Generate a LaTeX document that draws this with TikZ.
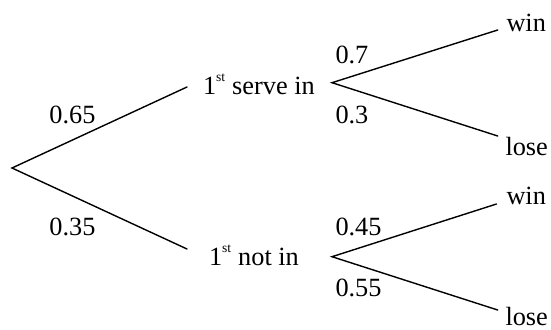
\documentclass[tikz,border=0pt]{standalone}
\usepackage{fontspec}
\setmainfont{Liberation Serif}
\newcommand{\supst}{\raisebox{13pt}{\fontsize{13.5}{13.5}\selectfont st}\hspace{0.5pt}}
\begin{document}
\begin{tikzpicture}[x=1pt,y=-1pt,
  lbl/.style={anchor=base west,inner sep=0pt,outer sep=0pt,font=\fontsize{26.3}{31}\selectfont},
  branch/.style={line width=1.4pt,line cap=round,line join=miter}]
\useasboundingbox (0,0) rectangle (551,329);
% branch points
\coordinate (r) at (12,168);
\coordinate (a) at (187,87);
\coordinate (b) at (187,249);
\coordinate (as) at (332,82.7);
\coordinate (bs) at (332,256.7);
\coordinate (aw) at (497.7,30);
\coordinate (al) at (497.7,136);
\coordinate (bw) at (496.5,204);
\coordinate (bl) at (497.7,310);
% connectors
\draw[branch] (a) -- (r) -- (b);
\draw[branch] (aw) -- (as) -- (al);
\draw[branch] (bw) -- (bs) -- (bl);
% texts
\node[lbl] (tA) at (203,94.3) {1\supst{} serve in};
\node[lbl] (tB) at (209,265) {1\supst{} not in};
\node[lbl] (p65) at (49.4,123.3) {0.65};
\node[lbl] (p35) at (49.4,235) {0.35};
\node[lbl] (p7) at (335.5,63.3) {0.7};
\node[lbl] (p3) at (335.5,123.3) {0.3};
\node[lbl] (p45) at (335.5,235) {0.45};
\node[lbl] (p55) at (335.5,296) {0.55};
\node[lbl] (w1) at (506.5,31.7) {win};
\node[lbl] (l1) at (505.5,155) {lose};
\node[lbl] (w2) at (506.5,204) {win};
\node[lbl] (l2) at (505.5,325.5) {lose};
\end{tikzpicture}
\end{document}
